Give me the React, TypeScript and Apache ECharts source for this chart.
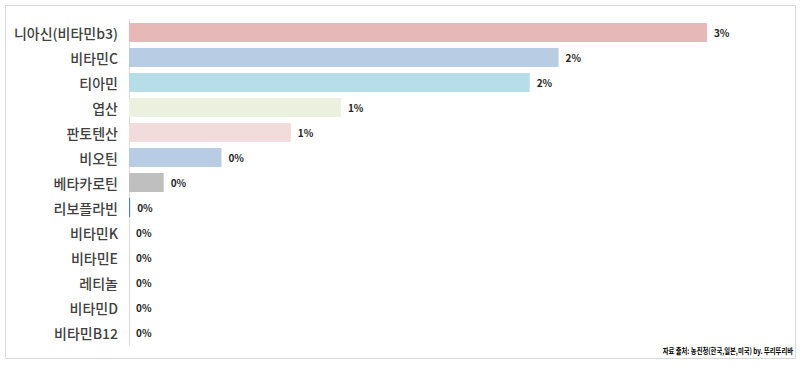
import React, { useEffect, useRef } from "react";
import * as echarts from "echarts";

const categories = [
  "니아신(비타민b3)",
  "비타민C",
  "티아민",
  "엽산",
  "판토텐산",
  "비오틴",
  "베타카로틴",
  "리보플라빈",
  "비타민K",
  "비타민E",
  "레티놀",
  "비타민D",
  "비타민B12",
];
const values = [3.0, 2.23, 2.08, 1.1, 0.84, 0.48, 0.18, 0.006, 0, 0, 0, 0, 0];
const colors = [
  "#e6b8b7",
  "#b8cce4",
  "#b7dde8",
  "#ebf1de",
  "#f2dcdb",
  "#b8cce4",
  "#bfbfbf",
  "#4f81bd",
  "#b8cce4",
  "#b8cce4",
  "#b8cce4",
  "#b8cce4",
  "#b8cce4",
];
const sourceText = "자료 출처: 농진청(한국,일본,미국) by. 뚜리뚜리바";

export default function App() {
  const ref = useRef<HTMLDivElement>(null);
  useEffect(() => {
    if (!ref.current) return;
    const chart = echarts.init(ref.current, null, { renderer: "svg" });
    const font = "'Noto Sans CJK KR', 'Noto Sans', sans-serif";
    chart.setOption({
      animation: false,
      backgroundColor: "#ffffff",
      grid: { left: 129, right: 17, top: 20, bottom: 21, containLabel: false },
      xAxis: {
        type: "value",
        min: 0,
        max: 3.4,
        show: false,
      },
      yAxis: {
        type: "category",
        inverse: true,
        data: categories,
        axisLine: { show: true, lineStyle: { color: "#d9d9d9", width: 1 } },
        axisTick: { show: false },
        axisLabel: {
          color: "#404040",
          fontSize: 14,
          fontWeight: 500,
          fontFamily: font,
          margin: 11,
        },
      },
      series: [
        {
          type: "bar",
          data: values.map((v, i) => ({ value: v, itemStyle: { color: colors[i] } })),
          barWidth: 19,
          label: {
            show: true,
            position: "right",
            distance: 7,
            formatter: (p: any) => Math.round(p.value) + "%",
            color: "#262626",
            fontSize: 10,
            fontWeight: "bold",
            fontFamily: font,
          },
        },
      ],
      graphic: [
        {
          type: "rect",
          shape: { x: 5.5, y: 5.5, width: 790, height: 353 },
          style: { fill: "none", stroke: "#d9d9d9", lineWidth: 1 },
          silent: true,
        },
        {
          type: "text",
          x: 793,
          y: 351,
          scaleX: 0.79,
          style: {
            text: sourceText,
            fill: "#000000",
            font: "bold 8px " + font,
            align: "right",
            verticalAlign: "middle",
          },
        },
      ],
    });
    return () => chart.dispose();
  }, []);
  return (
    <div
      ref={ref}
      style={{ position: "fixed", left: 0, top: 0, width: 801, height: 366 }}
    />
  );
}
